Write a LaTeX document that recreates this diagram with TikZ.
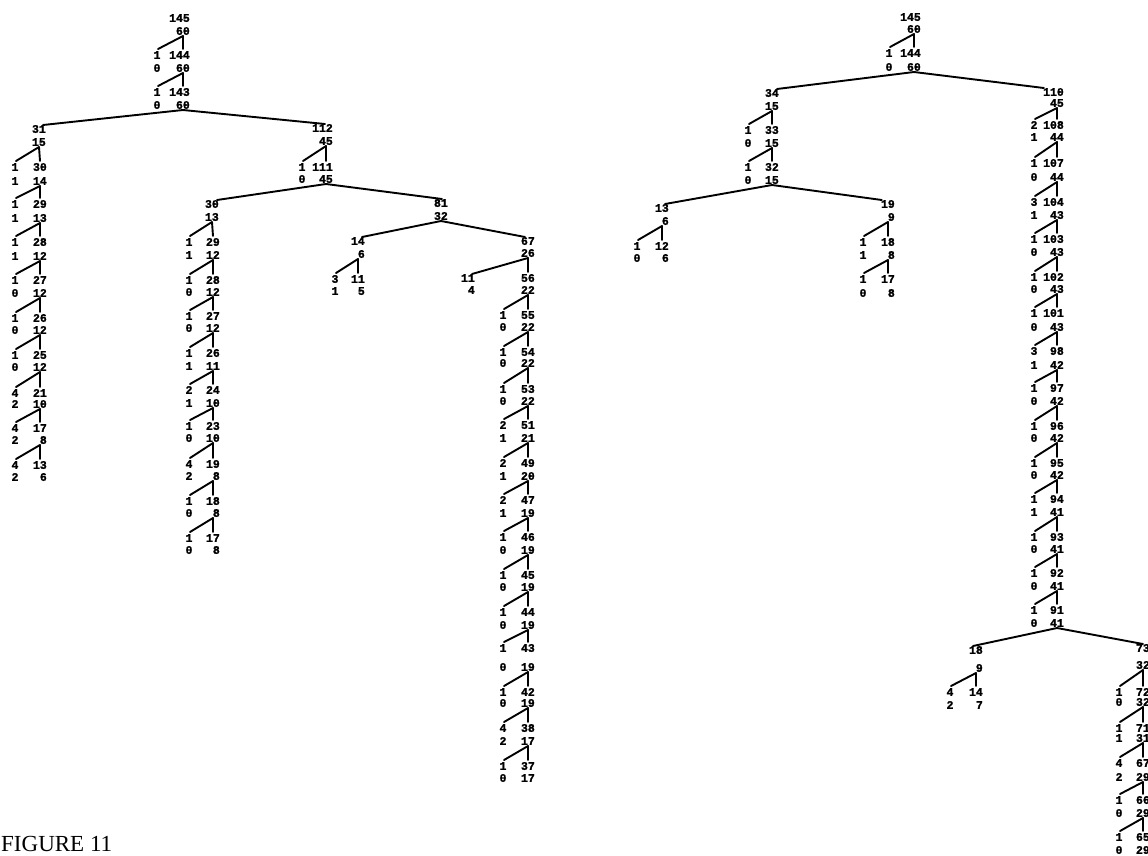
\documentclass[tikz,border=0pt]{standalone}
\usepackage{fontspec}
\newfontfamily\numfont{Liberation Mono}[BoldFeatures={FakeBold=1.6}]
\newfontfamily\figfont{Liberation Serif}
\newcommand{\tsingle}[6]{%
  \node[num,anchor=east] (#1t) at (#2,#3) {#5};
  \node[num,anchor=east] (#1b) at (#2,#4) {#6};
  \coordinate (#1j) at (#2-7,#4+5);
  \coordinate (#1v) at (#2-7,#3-6);
}
\newcommand{\tpair}[9]{%
  \node[num] (#1lt) at (#2,#4) {#6};
  \node[num,anchor=east] (#1t) at (#3,#4) {#7};
  \node[num] (#1lb) at (#2,#5) {#8};
  \node[num,anchor=east] (#1b) at (#3,#5) {#9};
  \coordinate (#1j) at (#3-7,#5+5);
  \coordinate (#1v) at (#3-7,#4-6);
  \coordinate (#1s) at (#2+1,#4-6);
}
\newcommand{\tstep}[2]{\draw[ln] (#2s) -- (#1j) -- (#2v);}
\begin{document}
\begin{tikzpicture}[x=1pt,y=-1pt,
  num/.style={font=\numfont\fontsize{11.5}{11.5}\selectfont\bfseries, inner sep=0pt, text height=7.6pt, text depth=0pt},
  ln/.style={line width=1.9pt, line cap=round, line join=round}]
\useasboundingbox (0,0) rectangle (1148,855);
\clip (0,0) rectangle (1148,855);
% ---------------- left tree ----------------
\tsingle{A0}{190}{18}{31}{145}{60}
\tpair{A1}{157}{190}{55}{68}{1}{144}{0}{60}
\tpair{A2}{157}{190}{92}{105}{1}{143}{0}{60}
\tstep{A0}{A1}
\tstep{A1}{A2}
\tsingle{B0}{46}{129}{142}{31}{15}
\tpair{B1}{15}{47}{167}{181}{1}{30}{1}{14}
\tpair{B2}{15}{47}{204}{218}{1}{29}{1}{13}
\tpair{B3}{15}{47}{242}{256}{1}{28}{1}{12}
\tpair{B4}{15}{47}{280}{293}{1}{27}{0}{12}
\tpair{B5}{15}{47}{318}{330}{1}{26}{0}{12}
\tpair{B6}{15}{47}{355}{367}{1}{25}{0}{12}
\tpair{B7}{15}{47}{393}{404}{4}{21}{2}{10}
\tpair{B8}{15}{47}{428}{440}{4}{17}{2}{8}
\tpair{B9}{15}{47}{465}{477}{4}{13}{2}{6}
\foreach \i in {1,...,9}{\pgfmathtruncatemacro\k{\i-1}\tstep{B\k}{B\i}}
\tsingle{C0}{333}{128}{141}{112}{45}
\tpair{C1}{302}{333}{167}{179}{1}{111}{0}{45}
\tstep{C0}{C1}
\draw[ln] ([xshift=-3pt]B0t.north east) -- (A2j) -- ([xshift=-8pt]C0t.north east);
\tsingle{D0}{219}{204}{217}{30}{13}
\tpair{D1}{189}{220}{242}{255}{1}{29}{1}{12}
\tpair{D2}{189}{220}{280}{292}{1}{28}{0}{12}
\tpair{D3}{189}{220}{316}{328}{1}{27}{0}{12}
\tpair{D4}{189}{220}{353}{366}{1}{26}{1}{11}
\tpair{D5}{189}{220}{390}{403}{2}{24}{1}{10}
\tpair{D6}{189}{220}{426}{438}{1}{23}{0}{10}
\tpair{D7}{189}{220}{464}{476}{4}{19}{2}{8}
\tpair{D8}{189}{220}{501}{513}{1}{18}{0}{8}
\tpair{D9}{189}{220}{538}{550}{1}{17}{0}{8}
\foreach \i in {1,...,9}{\pgfmathtruncatemacro\k{\i-1}\tstep{D\k}{D\i}}
\tsingle{E0}{448}{203}{216}{81}{32}
\draw[ln] ([xshift=-2pt]D0t.north east) -- (C1j) -- ([xshift=-6pt]E0t.north east);
\tsingle{F0}{365}{241}{254}{14}{6}
\tpair{F1}{335}{365}{279}{291}{3}{11}{1}{5}
\tstep{F0}{F1}
\tsingle{G0}{535}{241}{253}{67}{26}
\draw[ln] ([xshift=-3pt]F0t.north east) -- (E0j) -- ([xshift=-10pt]G0t.north east);
\tsingle{H0}{475}{278}{290}{11}{4}
\tsingle{G1}{535}{278}{290}{56}{22}
\draw[ln] ([xshift=-3pt]H0t.north east) -- (G0j) -- (G1v);
\tpair{G2}{503}{535}{315}{327}{1}{55}{0}{22}
\tpair{G3}{503}{535}{352}{363}{1}{54}{0}{22}
\tpair{G4}{503}{535}{389}{401}{1}{53}{0}{22}
\tpair{G5}{503}{535}{425}{438}{2}{51}{1}{21}
\tpair{G6}{503}{535}{463}{476}{2}{49}{1}{20}
\tpair{G7}{503}{535}{500}{513}{2}{47}{1}{19}
\tpair{G8}{503}{535}{537}{550}{1}{46}{0}{19}
\tpair{G9}{503}{535}{575}{587}{1}{45}{0}{19}
\tpair{G10}{503}{535}{612}{625}{1}{44}{0}{19}
\tpair{G11}{503}{535}{648}{667}{1}{43}{0}{19}
\tpair{G12}{503}{535}{692}{703}{1}{42}{0}{19}
\tpair{G13}{503}{535}{728}{741}{4}{38}{2}{17}
\tpair{G14}{503}{535}{766}{778}{1}{37}{0}{17}
\foreach \i in {2,...,14}{\pgfmathtruncatemacro\k{\i-1}\tstep{G\k}{G\i}}
% ---------------- right tree ----------------
\tsingle{R0}{921}{17}{29}{145}{60}
\tpair{R1}{889}{921}{53}{67}{1}{144}{0}{60}
\tstep{R0}{R1}
\tsingle{S0}{779}{93}{106}{34}{15}
\tpair{S1}{748}{779}{130}{143}{1}{33}{0}{15}
\tpair{S2}{748}{779}{167}{180}{1}{32}{0}{15}
\tstep{S0}{S1}
\tstep{S1}{S2}
\tsingle{T0}{1064}{92}{103}{110}{45}
\draw[ln] ([xshift=-2pt]S0t.north east) -- (R1j) -- ([xshift=1pt]T0t.north west);
\tsingle{U0}{669}{208}{221}{13}{6}
\tpair{U1}{637}{669}{246}{258}{1}{12}{0}{6}
\tstep{U0}{U1}
\tsingle{V0}{895}{204}{217}{19}{9}
\tpair{V1}{863}{895}{242}{255}{1}{18}{1}{8}
\tpair{V2}{863}{895}{279}{293}{1}{17}{0}{8}
\tstep{V0}{V1}
\tstep{V1}{V2}
\draw[ln] ([xshift=-4pt]U0t.north east) -- (S2j) -- ([xshift=1pt]V0t.north west);
\tpair{T1}{1034}{1064}{125}{137}{2}{108}{1}{44}
\tpair{T2}{1034}{1064}{163}{177}{1}{107}{0}{44}
\tpair{T3}{1034}{1064}{202}{215}{3}{104}{1}{43}
\tpair{T4}{1034}{1064}{239}{252}{1}{103}{0}{43}
\tpair{T5}{1034}{1064}{277}{289}{1}{102}{0}{43}
\tpair{T6}{1034}{1064}{313}{327}{1}{101}{0}{43}
\tpair{T7}{1034}{1064}{351}{365}{3}{98}{1}{42}
\tpair{T8}{1034}{1064}{388}{401}{1}{97}{0}{42}
\tpair{T9}{1034}{1064}{426}{438}{1}{96}{0}{42}
\tpair{T10}{1034}{1064}{463}{475}{1}{95}{0}{42}
\tpair{T11}{1034}{1064}{499}{512}{1}{94}{1}{41}
\tpair{T12}{1034}{1064}{537}{549}{1}{93}{0}{41}
\tpair{T13}{1034}{1064}{573}{586}{1}{92}{0}{41}
\tpair{T14}{1034}{1064}{610}{623}{1}{91}{0}{41}
\foreach \i in {1,...,14}{\pgfmathtruncatemacro\k{\i-1}\tstep{T\k}{T\i}}
\tsingle{W0}{983}{650}{668}{18}{9}
\tpair{W1}{950}{983}{692}{705}{4}{14}{2}{7}
\tstep{W0}{W1}
\tsingle{X0}{1150}{648}{665}{73}{32}
\draw[ln] ([xshift=-10pt]W0t.north east) -- (T14j) -- ([xshift=-7pt]X0t.north east);
\tpair{X1}{1119}{1150}{692}{702}{1}{72}{0}{32}
\tpair{X2}{1119}{1150}{728}{738}{1}{71}{1}{31}
\tpair{X3}{1119}{1150}{763}{777}{4}{67}{2}{29}
\tpair{X4}{1119}{1150}{800}{813}{1}{66}{0}{29}
\tpair{X5}{1119}{1150}{837}{850}{1}{65}{0}{29}
\foreach \i in {1,...,5}{\pgfmathtruncatemacro\k{\i-1}\tstep{X\k}{X\i}}
% caption
\node[anchor=base west, inner sep=0pt, text depth=0pt, font=\figfont\fontsize{23}{23}\selectfont] (fig) at (1,851) {FIGURE 11};
\end{tikzpicture}
\end{document}
